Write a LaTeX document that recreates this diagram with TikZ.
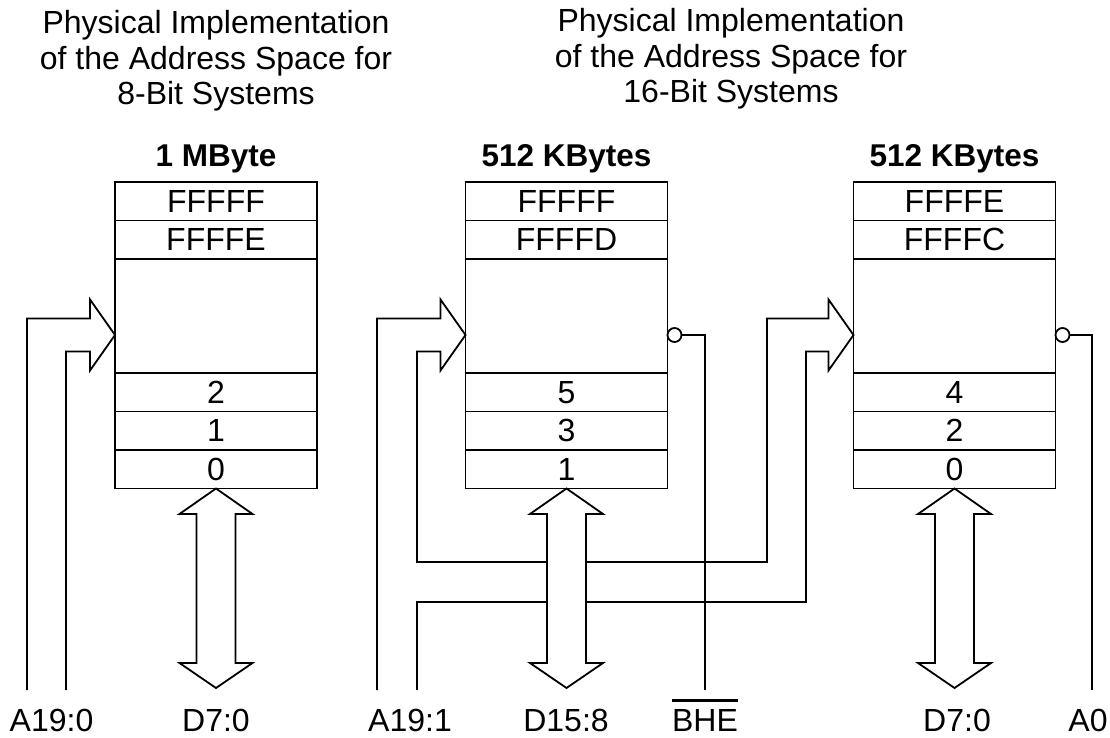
\documentclass[tikz,border=0pt]{standalone}
\usepackage{fontspec}
\setmainfont{Liberation Sans}
\usetikzlibrary{calc}

\tikzset{
  txt/.style={font=\fontsize{32}{36}\selectfont},
  cell/.style={txt, draw, line width=1.8pt, minimum width=202pt, minimum height=38.5pt,
               inner sep=0pt, outer sep=0pt, anchor=north},
  bigcell/.style={cell, minimum height=114pt},
  wire/.style={line width=1.8pt, line join=miter},
  sig/.style={line width=2.6pt, line join=miter},
  lbl/.style={txt, inner sep=0pt, anchor=base},
  hdr/.style={font=\fontsize{31.5}{36}\selectfont\bfseries, inner sep=0pt, anchor=base},
  heading/.style={font=\fontsize{32}{35.5}\selectfont, align=center, inner sep=0pt, anchor=north},
  bubble/.style={circle, draw, line width=1.8pt, minimum size=14pt, inner sep=0pt, outer sep=0pt, anchor=west},
}

% memory block: name, centre x, size heading, five row labels
\newcommand\memblock[8]{%
  \node[hdr] (#1h) at (#2,167) {#3};
  \node[cell] (#1a) at (#2,182) {#4};
  \node[cell] (#1b) at (#1a.south) {#5};
  \node[bigcell] (#1c) at (#1b.south) {};
  \node[cell] (#1d) at (#1c.south) {#6};
  \node[cell] (#1e) at (#1d.south) {#7};
  \node[cell] (#1f) at (#1e.south) {#8};
  \coordinate (#1in) at ([yshift=-19pt]#1c.west);
  \coordinate (#1out) at ([yshift=-19pt]#1c.east);
  \coordinate (#1busL) at ([xshift=-19.5pt]#1f.south);
  \coordinate (#1busR) at ([xshift=19.5pt]#1f.south);
  % bidirectional data bus
  \draw[wire] (#1f.south) -- ++(36.5,25.5) -- ++(-17,0) -- ++(0,149) -- ++(17,0)
    -- ++(-36.5,25) -- ++(-36.5,-25) -- ++(17,0) -- ++(0,-149) -- ++(-17,0) -- cycle;
}

\begin{document}
\begin{tikzpicture}[x=1pt,y=-1pt]
\useasboundingbox (0,0) rectangle (1110,738);

% headings
\node[heading] (t8) at (216,10.5) {Physical Implementation\\of the Address Space for\\8-Bit Systems};
\node[heading] (t16) at (731,8.5) {Physical Implementation\\of the Address Space for\\16-Bit Systems};

% memory blocks
\memblock{m1}{216}{1 MByte}{FFFFF}{FFFFE}{2}{1}{0}
\memblock{m2}{566.5}{512 KBytes}{FFFFF}{FFFFD}{5}{3}{1}
\memblock{m3}{954.5}{512 KBytes}{FFFFE}{FFFFC}{4}{2}{0}

% address bus ends and routing points
\coordinate (a1o) at (27,690);
\coordinate (a1i) at (66,690);
\coordinate (a2o) at (377,690);
\coordinate (a2i) at (417,690);
\coordinate (k1) at (417,562);
\coordinate (k2) at (767,562);
\coordinate (k3) at (806,602);
\coordinate (k4) at (417,602);
\coordinate (bheend) at (705,690);
\coordinate (a0end) at (1092,690);

% address bus of the 8-bit block
\draw[wire] (a1o) |- ($(m1in)+(-25,-16.5)$) -- ++(0,-19) -- (m1in)
  -- ++(-25,35.5) -- ++(0,-19) -| (a1i);

% address bus of the 16-bit blocks
\draw[wire] (a2o) |- ($(m2in)+(-25,-16.5)$) -- ++(0,-19) -- (m2in)
  -- ++(-25,35.5) -- ++(0,-19) -| (k1) -- (k1 -| m2busL);
\draw[wire] (k1 -| m2busR) -- (k2) |- ($(m3in)+(-25,-16.5)$) -- ++(0,-19) -- (m3in)
  -- ++(-25,35.5) -- ++(0,-19) -| (k3) -- (k3 -| m2busR);
\draw[wire] (k3 -| m2busL) -- (k4) -- (a2i);

% active-low enables
\node[bubble] (b2) at (m2out) {};
\node[bubble] (b3) at (m3out) {};
\draw[sig] (b2.east) -| (bheend);
\draw[sig] (b3.east) -| (a0end);

% signal names
\node[lbl] (l1) at (51.5,731) {A19:0};
\node[lbl] (l2) at (216,731) {D7:0};
\node[lbl] (l3) at (410,731) {A19:1};
\node[lbl] (l4) at (566,731) {D15:8};
\node[lbl] (l5) at (705,731) {BHE};
\node[lbl] (l6) at (957,731) {D7:0};
\node[lbl] (l7) at (1088,731) {A0};
\draw[line width=3pt] ([yshift=8.5pt]l5.north west) -- ([yshift=8.5pt]l5.north east);
\end{tikzpicture}
\end{document}
